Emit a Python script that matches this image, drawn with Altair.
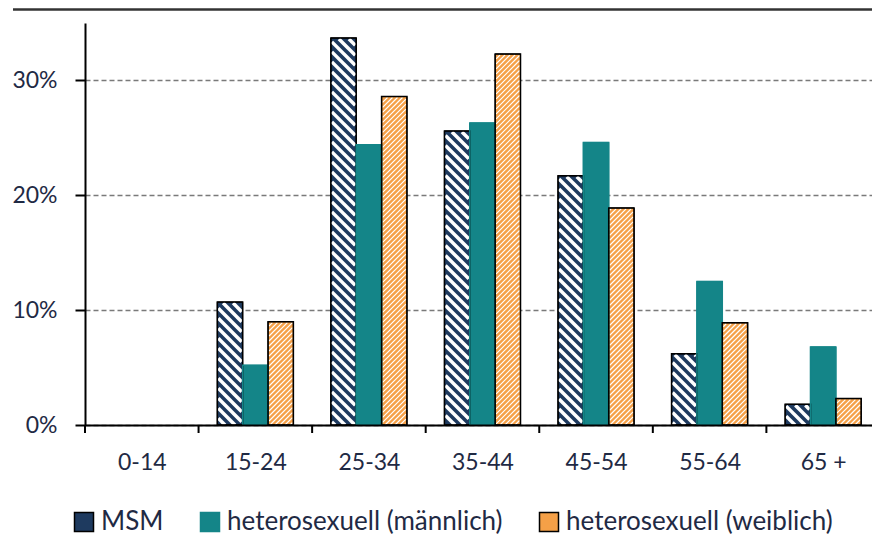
import altair as alt
import numpy as np
import pandas as pd

# ---- data ----
categories = ["0-14", "15-24", "25-34", "35-44", "45-54", "55-64", "65 +"]
series = ["MSM", "heterosexuell (männlich)", "heterosexuell (weiblich)"]
msm = [0, 10.7, 33.7, 25.6, 21.7, 6.2, 1.8]
het_m = [0, 5.2, 24.4, 26.3, 24.6, 12.5, 6.8]
het_w = [0, 9.0, 28.6, 32.3, 18.9, 8.9, 2.3]
y_ticks = [0, 10, 20, 30]

# ---- layout / style ----
W, H = 787, 402
XMAX = 6.93
YMAX = 35
SX = W / XMAX
SY = H / YMAX
BAR = 0.2233
NAVY = "#1E3A5F"
TEAL = "#148588"
ORANGE = "#F5A047"
TXT = "#1f2a44"
FONT = "Lato"

values = [msm, het_m, het_w]
rows = []
for ci, cat in enumerate(categories):
    for si, s in enumerate(series):
        v = values[si][ci]
        if v <= 0:
            continue
        x0 = ci + 0.5 - 1.5 * BAR + si * BAR
        rows.append({"cat": cat, "series": s, "x0": x0, "x1": x0 + BAR, "v": v})
bars = pd.DataFrame(rows)

INSET = 1.0


def hatch(x0, x1, v, spacing, direction, width):
    a = x0 * SX + INSET
    b = x1 * SX - INSET
    h = v * SY - INSET
    segs = []
    if direction == "back":  # "\" on screen: xs + u = k
        k = np.ceil(a / spacing) * spacing
        while k < b + h:
            lo, hi = max(a, k - h), min(b, k)
            if hi > lo:
                segs.append({"hx": lo / SX, "hy": (k - lo) / SY,
                             "hx2": hi / SX, "hy2": (k - hi) / SY, "w": width})
            k += spacing
    else:  # "/" on screen: u - xs = k
        k = np.ceil(-b / spacing) * spacing
        while k < h - a:
            lo, hi = max(a, -k), min(b, h - k)
            if hi > lo:
                segs.append({"hx": lo / SX, "hy": (lo + k) / SY,
                             "hx2": hi / SX, "hy2": (hi + k) / SY, "w": width})
            k += spacing
    return segs


hrows = []
for r in rows:
    if r["series"] == series[0]:
        hrows += hatch(r["x0"], r["x1"], r["v"], 10.0, "back", 3.5)
    elif r["series"] == series[2]:
        hrows += hatch(r["x0"], r["x1"], r["v"], 5.0, "fwd", 1.2)
hatch_df = pd.DataFrame(hrows)

boundaries = pd.DataFrame({"b": list(range(len(categories)))})

label_expr = "[" + ",".join("'" + c + "'" for c in categories) + "][floor(datum.value)]"

xscale = alt.Scale(domain=[0, XMAX], nice=False, zero=False)
yscale = alt.Scale(domain=[0, YMAX], nice=False)

x_axis = alt.Axis(values=[i + 0.5 for i in range(len(categories))], labelExpr=label_expr,
                  labelFlush=False, labelOverlap=False, ticks=False,
                  domainColor="black", domainWidth=2, grid=False,
                  labelFont=FONT, labelFontSize=23, labelColor=TXT,
                  labelPadding=26, title=None, zindex=1)
y_axis = alt.Axis(values=y_ticks, labelExpr="datum.value + '%'",
                  tickSize=10, tickWidth=2, tickColor="black",
                  domainColor="black", domainWidth=2,
                  grid=True, gridDash=[5, 3], gridColor="#7a7a7a", gridWidth=1.5,
                  labelFont=FONT, labelFontSize=23, labelColor=TXT,
                  labelPadding=18, title=None)

legend = alt.Legend(orient="none", legendX=-14, legendY=486, direction="horizontal",
                    columns=3, title=None, symbolType="square", symbolSize=361,
                    symbolStrokeWidth=1.5, symbolOpacity=1, labelLimit=0,
                    labelFont=FONT, labelFontSize=26, labelColor=TXT,
                    labelOffset=4, columnPadding=33, padding=0)

fill_layer = alt.Chart(bars).mark_rect().encode(
    x=alt.X("x0:Q", scale=xscale, axis=x_axis),
    x2="x1:Q",
    y=alt.Y("v:Q", scale=yscale, axis=y_axis),
    y2=alt.datum(0),
    fill=alt.Fill("series:N", scale=alt.Scale(domain=series, range=[NAVY, TEAL, ORANGE]),
                  legend=legend),
    stroke=alt.Stroke("series:N", scale=alt.Scale(domain=series, range=["black", TEAL, "black"]),
                      legend=legend),
)

hatch_layer = alt.Chart(hatch_df).mark_rule(color="white", strokeCap="butt").encode(
    x="hx:Q", x2="hx2:Q", y="hy:Q", y2="hy2:Q",
    strokeWidth=alt.StrokeWidth("w:Q", scale=None),
)

border_layer = alt.Chart(bars).mark_rect(fill="transparent", strokeWidth=1.5).encode(
    x="x0:Q", x2="x1:Q", y="v:Q", y2=alt.datum(0),
    stroke=alt.condition("datum.series === 'heterosexuell (männlich)'",
                         alt.value(TEAL), alt.value("black")),
)

tick_layer = alt.Chart(boundaries).mark_rule(color="black", strokeWidth=2).encode(
    x="b:Q", y=alt.value(H), y2=alt.value(H + 8)
)

top_line = alt.Chart(pd.DataFrame({"k": [0]})).mark_rule(color="#333333", strokeWidth=2.5).encode(
    x=alt.value(-72), x2=alt.value(W), y=alt.value(-13.5)
)

chart = alt.layer(fill_layer, hatch_layer, border_layer, tick_layer, top_line).properties(
    width=W, height=H,
    padding={"left": 85, "top": 23, "right": 0, "bottom": 110},
    autosize=alt.AutoSizeParams(type="none"),
).configure_view(stroke=None)

chart.save("out.html", embed_options={"renderer": "svg", "actions": False})
